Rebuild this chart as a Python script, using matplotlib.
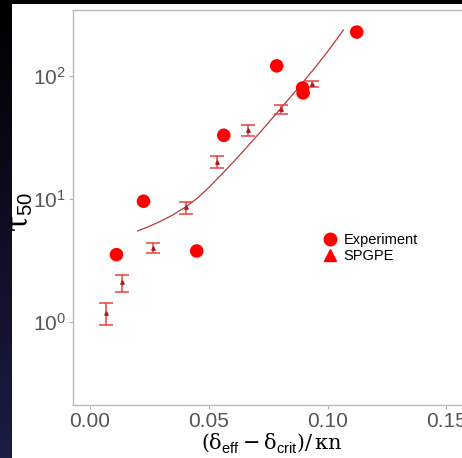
import matplotlib
matplotlib.use("Agg")
import matplotlib.pyplot as plt
import numpy as np
from matplotlib.lines import Line2D
from matplotlib.patches import Rectangle

plt.rcParams['font.family'] = ['Liberation Sans', 'DejaVu Sans']
plt.rcParams['mathtext.fontset'] = 'custom'
plt.rcParams['mathtext.rm'] = 'DejaVu Serif'
plt.rcParams['mathtext.it'] = 'DejaVu Serif:italic'
plt.rcParams['mathtext.bf'] = 'DejaVu Serif:bold'
plt.rcParams['mathtext.sf'] = 'Liberation Sans'

# Experiment data
exp_x = [0.0111, 0.0225, 0.0449, 0.0563, 0.0786, 0.0895, 0.0897, 0.1123]
exp_y = [3.53, 9.6, 3.78, 33.0, 121.0, 80.0, 73.0, 228.0]

# SPGPE data with error bars
sp_x = [0.0067, 0.0135, 0.0267, 0.0402, 0.0534, 0.0666, 0.0802, 0.0934]
sp_y = [1.18, 2.10, 4.02, 8.56, 20.0, 36.4, 53.6, 86.5]
sp_lo = [0.94, 1.76, 3.62, 7.55, 17.9, 32.5, 49.0, 82.0]
sp_hi = [1.42, 2.41, 4.41, 9.50, 22.4, 40.0, 58.0, 91.0]

# Fit curve
fit_x = [0.020, 0.025, 0.030, 0.035, 0.040, 0.045, 0.050, 0.055, 0.060,
         0.065, 0.070, 0.075, 0.080, 0.085, 0.090, 0.095, 0.100, 0.1067]
fit_y = [5.50, 6.00, 6.64, 7.46, 8.57, 10.1, 12.4, 15.6, 19.7,
         25.1, 32.2, 41.5, 53.7, 69.7, 90.8, 118.9, 157.8, 236.6]

xticks = [0.0, 0.05, 0.10, 0.15]
xticklabels = ['0.00', '0.05', '0.10', '0.15']
yticks = [1, 10, 100]
yticklabels = [r'$\mathsf{10^{0}}$', r'$\mathsf{10^{1}}$', r'$\mathsf{10^{2}}$']

W, H = 462, 458
fig = plt.figure(figsize=(W / 100, H / 100), dpi=100, facecolor='white')

# Dark background strips
bg = fig.add_axes([0, 0, 12 / W, 1])
bg.set_zorder(0)
grad = np.linspace(0, 1, 256).reshape(-1, 1)
top_c = np.array([0.0, 0.0, 0.0])
bot_c = np.array([0.11, 0.11, 0.27])
img = top_c + (bot_c - top_c) * grad[:, :, None]
bg.imshow(img, aspect='auto', extent=[0, 1, 0, 1], origin='upper')
bg.axis('off')
fig.patches.append(Rectangle((0, 1 - 4 / H), 1, 4 / H, transform=fig.transFigure,
                             facecolor='black', edgecolor='none', zorder=5))

ax = fig.add_axes([73 / W, 53 / H, (470 - 73) / W, 395 / H])
ax.set_zorder(2)
ax.set_yscale('log')

ax.plot(fit_x, fit_y, color='#b53a3a', lw=0.9, zorder=2)

yerr = [np.array(sp_y) - np.array(sp_lo), np.array(sp_hi) - np.array(sp_y)]
ax.errorbar(sp_x, sp_y, yerr=yerr, fmt='^', color='#e84040', ecolor='#e84040',
            markersize=2.5, elinewidth=1.1, capsize=5, capthick=1.1,
            markerfacecolor='#a82020', markeredgecolor='#a82020', zorder=3)

ax.scatter(exp_x, exp_y, s=95, color='#ff0000', edgecolors='none', zorder=4)

ax.set_xlim(-0.0072, 0.16)
ax.set_ylim(0.2114, 344.6)
ax.set_xticks(xticks)
ax.set_xticklabels(xticklabels)
ax.set_yticks(yticks)
ax.set_yticklabels(yticklabels)
ax.minorticks_off()
ax.tick_params(axis='both', colors='#b0b0b0', labelcolor='#555555', labelsize=15,
               length=3, width=0.8, pad=2)

for s in ax.spines.values():
    s.set_color('#b8b8b8')
    s.set_linewidth(1.0)

ax.set_xlabel(r'$\left(\mathrm{\delta}_{\mathsf{eff}} - \mathrm{\delta}_{\mathsf{crit}}\right)/\,\mathrm{\kappa n}$',
              fontsize=15, color='black', labelpad=0)
ax.set_ylabel(r'$\mathrm{\tau}_{\mathsf{50}}$', fontsize=21, color='black')
ax.yaxis.set_label_coords((35 - 73) / 397, 0.49)

handles = [Line2D([], [], marker='o', ls='', color='#ff0000', markersize=9),
           Line2D([], [], marker='^', ls='', color='#ff0000', markersize=9)]
fig.legend(handles, ['Experiment', 'SPGPE'], loc='center left',
           bbox_to_anchor=(323 / W, 1 - 248 / H), frameon=False, fontsize=10.5,
           borderpad=0, handlelength=1.0, handletextpad=0.4, labelspacing=0.15,
           borderaxespad=0)

fig.savefig('out.png', dpi=100, facecolor='white')
